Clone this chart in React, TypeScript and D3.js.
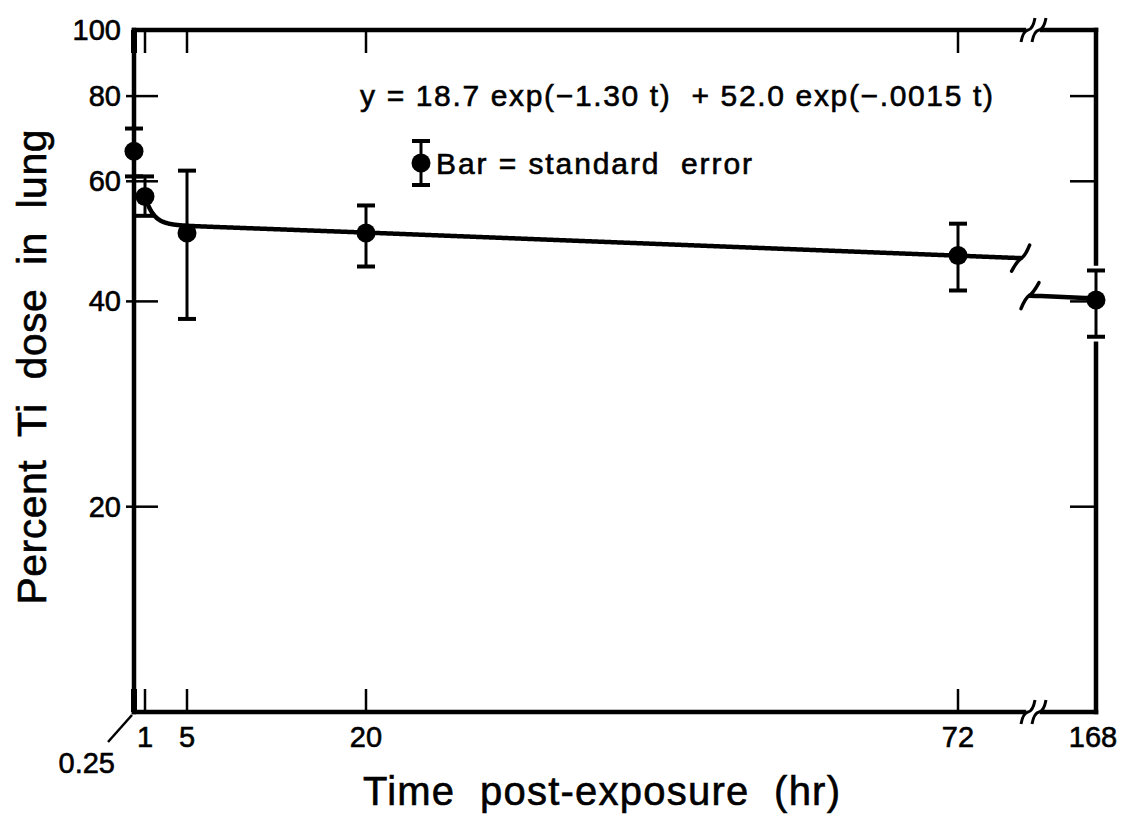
import React from "react";
import * as d3 from "d3";

// ---- data ----
const times = [0.25, 1, 5, 20, 72, 168];
const means = [66.4, 57.0, 50.4, 50.4, 46.7, 40.2];
const upper = [71.7, 61.0, 62.2, 55.3, 52.0, 44.4];
const lower = [61.0, 53.4, 37.7, 45.0, 41.5, 35.5];

const xTickValues = [0.25, 1, 5, 20, 72];
const xTickLabels = ["0.25", "1", "5", "20", "72"];
const lateTick = 168;
const yTickValues = [20, 40, 60, 80, 100];

// fitted model shown on the chart: y = A exp(-a t) + B exp(-b t)
const fitA = 18.7, fitRateA = 1.3, fitB = 52.0, fitRateB = 0.0015;
const tCurveStart = 1;
const tBreak = 77.5;
const tLateStart = 162;

const W = 1123, H = 820;
const L = 134, R = 1096, T = 30, B = 712;
const FONT = "'Liberation Sans', Arial, Helvetica, sans-serif";

const x = d3.scaleLinear().domain([0.25, 1, 5, 20, 72]).range([134, 145, 187, 366, 958]);
const xLate = d3.scaleLinear().domain([tLateStart, 168]).range([1030, R]);
const y = d3.scaleLog().domain([10, 100]).range([B, T]);

const fit = (t: number) => fitA * Math.exp(-fitRateA * t) + fitB * Math.exp(-fitRateB * t);

export default function App() {
  const early = d3.range(tCurveStart, tBreak, 0.05).concat([tBreak]);
  const line = d3.line<number>().x((t) => x(t)).y((t) => y(fit(t))).curve(d3.curveMonotoneX);
  const late = d3.range(tLateStart, 168.001, 0.5);
  const lineLate = d3.line<number>().x((t) => xLate(t)).y((t) => y(fit(t)));

  const px = (t: number) => (t > 100 ? xLate(t) : x(t));

  const breakS = (cx: number, cy: number) =>
    `M${cx - 7},${cy + 12} Q${cx - 5},${cy + 1} ${cx},${cy} Q${cx + 5},${cy - 1} ${cx + 7},${cy - 12}`;

  const endX = x(tBreak), endY = y(fit(tBreak));
  const stX = xLate(tLateStart), stY = y(fit(tLateStart));

  const i168 = times.indexOf(168);
  const txt = { stroke: "#000", strokeWidth: 0.6 };

  return (
    <svg width={W} height={H} style={{ position: "absolute", left: 0, top: 0, background: "#fff" }} fontFamily={FONT}>
      {/* frame */}
      <g stroke="#000" strokeWidth={4.5} fill="none" strokeLinecap="square">
        <line x1={L} y1={T} x2={L} y2={B} />
        <line x1={L} y1={B} x2={1024} y2={B} />
        <line x1={1042} y1={B} x2={R} y2={B} />
        <line x1={L} y1={T} x2={1024} y2={T} />
        <line x1={1042} y1={T} x2={R} y2={T} />
        <line x1={R} y1={T} x2={R} y2={y(upper[i168]) - 7} />
        <line x1={R} y1={y(lower[i168]) + 7} x2={R} y2={B} />
      </g>
      {/* axis break marks */}
      <g stroke="#000" strokeWidth={3} fill="none">
        {[T, B].map((yy) => (
          <g key={yy}>
            <path d={breakS(1028, yy)} />
            <path d={breakS(1039, yy)} />
          </g>
        ))}
      </g>
      {/* x ticks */}
      <g stroke="#000">
        {xTickValues.map((t) => (
          <g key={t}>
            <line x1={x(t)} x2={x(t)} y1={B} y2={B - 23} strokeWidth={t === 0.25 ? 6 : 2.5} />
            <line x1={x(t)} x2={x(t)} y1={T} y2={T + 23} strokeWidth={t === 0.25 ? 6 : 2.5} />
          </g>
        ))}
      </g>
      {/* y ticks */}
      <g stroke="#000" strokeWidth={2.5}>
        {yTickValues.filter((v) => v < 100).map((v) => (
          <g key={v}>
            <line x1={L - 8} x2={L + 24} y1={y(v)} y2={y(v)} />
            <line x1={R - 26} x2={R} y1={y(v)} y2={y(v)} />
          </g>
        ))}
      </g>
      {/* y tick labels */}
      <g fontSize={29} textAnchor="end" fill="#000" {...txt}>
        {yTickValues.map((v) => (
          <text key={v} x={121} y={y(v) + 10}>{v}</text>
        ))}
      </g>
      {/* x tick labels */}
      <g fontSize={29} textAnchor="middle" fill="#000" {...txt}>
        {xTickValues.map((t, i) =>
          t === 0.25 ? (
            <g key={t}>
              <text x={115} y={773} textAnchor="end">{xTickLabels[i]}</text>
              <line x1={108} y1={742} x2={x(t) - 2} y2={B + 3} stroke="#000" strokeWidth={2.5} />
            </g>
          ) : (
            <text key={t} x={x(t)} y={747}>{xTickLabels[i]}</text>
          )
        )}
        <text x={xLate(lateTick) - 3} y={747}>{lateTick}</text>
      </g>
      {/* axis titles */}
      <text x={363} y={805} fontSize={40} textLength={477} lengthAdjust="spacing" style={{ whiteSpace: "pre" }} {...txt}>
        Time  post-exposure  (hr)
      </text>
      <text
        transform={`translate(46,${367}) rotate(-90)`}
        fontSize={41}
        textAnchor="middle"
        textLength={475}
        lengthAdjust="spacing"
        style={{ whiteSpace: "pre" }}
        {...txt}
      >
        Percent  Ti  dose  in  lung
      </text>
      {/* fitted curve */}
      <g stroke="#000" strokeWidth={4.5} fill="none" strokeLinecap="round">
        <path d={line(early) || ""} />
        <path d={lineLate(late) || ""} />
        <path d={`M${endX - 9},${endY + 13} Q${endX - 3},${endY + 2} ${endX + 1},${endY} Q${endX + 5},${endY - 3} ${endX + 9},${endY - 13}`} strokeWidth={3.5} />
        <path d={`M${stX - 9},${stY + 13} Q${stX - 5},${stY + 3} ${stX - 1},${stY} Q${stX + 3},${stY - 2} ${stX + 9},${stY - 13}`} strokeWidth={3.5} />
      </g>
      {/* error bars and points */}
      <g stroke="#000" fill="#000">
        {times.map((t, i) => {
          const cx = px(t);
          return (
            <g key={t}>
              <line x1={cx} x2={cx} y1={y(upper[i])} y2={y(lower[i])} strokeWidth={3} />
              <line x1={cx - 9} x2={cx + 9} y1={y(upper[i])} y2={y(upper[i])} strokeWidth={4} />
              <line x1={cx - 9} x2={cx + 9} y1={y(lower[i])} y2={y(lower[i])} strokeWidth={4} />
              <circle cx={cx} cy={y(means[i])} r={9.5} stroke="none" />
            </g>
          );
        })}
      </g>
      {/* equation and legend */}
      <text x={360} y={106} fontSize={30} textLength={633} lengthAdjust="spacing" style={{ whiteSpace: "pre" }} {...txt}>
        y = 18.7 exp(−1.30 t)  + 52.0 exp(−.0015 t)
      </text>
      <g stroke="#000" fill="#000">
        <line x1={421} x2={421} y1={141} y2={185} strokeWidth={3} />
        <line x1={412} x2={430} y1={141} y2={141} strokeWidth={4} />
        <line x1={412} x2={430} y1={185} y2={185} strokeWidth={4} />
        <circle cx={421} cy={163} r={9.5} stroke="none" />
      </g>
      <text x={436} y={174} fontSize={30} textLength={316} lengthAdjust="spacing" style={{ whiteSpace: "pre" }} {...txt}>
        Bar = standard  error
      </text>
    </svg>
  );
}
